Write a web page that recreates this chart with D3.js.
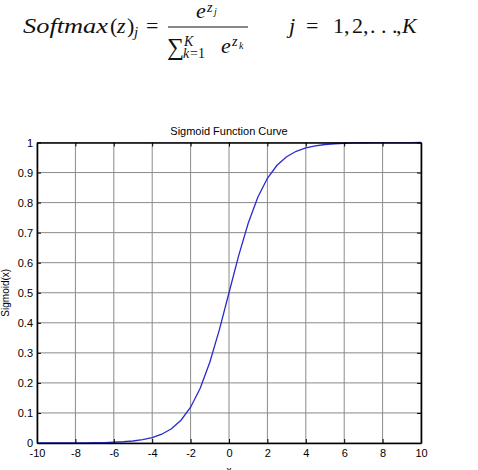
<!DOCTYPE html>
<html>
<head>
<meta charset="utf-8">
<script src="https://cdn.jsdelivr.net/npm/d3@7"></script>
<style>
  body { margin: 0; background: #fff; }
  svg { display: block; }
  .math text { font-family: "Liberation Serif", "DejaVu Serif", serif; fill: #111; }
  .axis text { font-family: "Liberation Sans", Arial, sans-serif; font-size: 11px; fill: #000; }
</style>
</head>
<body>
<div id="chart"></div>
<script>
// sigmoid curve, every 0.5 in x
var xValues = [-10, -9.5, -9, -8.5, -8, -7.5, -7, -6.5, -6, -5.5, -5, -4.5, -4, -3.5, -3, -2.5, -2, -1.5, -1, -0.5,
               0, 0.5, 1, 1.5, 2, 2.5, 3, 3.5, 4, 4.5, 5, 5.5, 6, 6.5, 7, 7.5, 8, 8.5, 9, 9.5, 10];
var yValues = [0.0000, 0.0001, 0.0001, 0.0002, 0.0003, 0.0006, 0.0009, 0.0015, 0.0025, 0.0041, 0.0067, 0.0110,
               0.0180, 0.0293, 0.0474, 0.0759, 0.1192, 0.1824, 0.2689, 0.3775, 0.5000, 0.6225, 0.7311, 0.8176,
               0.8808, 0.9241, 0.9526, 0.9707, 0.9820, 0.9890, 0.9933, 0.9959, 0.9975, 0.9985, 0.9991, 0.9994,
               0.9997, 0.9998, 0.9999, 0.9999, 1.0000];
var xTicks = [-10, -8, -6, -4, -2, 0, 2, 4, 6, 8, 10];
var yTicks = [0, 0.1, 0.2, 0.3, 0.4, 0.5, 0.6, 0.7, 0.8, 0.9, 1];

var chartTitle = "Sigmoid Function Curve";
var xLabel = "x";
var yLabel = "Sigmoid(x)";

var width = 478, height = 470;
var margin = {top: 142.5, right: 57, bottom: 27, left: 37};
var plotW = width - margin.left - margin.right;
var plotH = height - margin.top - margin.bottom;

var svg = d3.select("#chart").append("svg")
    .attr("width", width)
    .attr("height", height);

// ---- formula on top ----
var f = svg.append("g").attr("class", "math");

// small helper: one piece of the formula
function piece(txt, px, py, size, italic, len) {
    var t = f.append("text").attr("x", px).attr("y", py)
        .style("font-size", size + "px")
        .style("font-style", italic ? "italic" : "normal")
        .text(txt);
    if (len) t.attr("textLength", len).attr("lengthAdjust", "spacingAndGlyphs");
    return t;
}

piece("Softmax", 23, 33, 22, true, 85);
piece("(", 110, 33, 22, false);
piece("z", 117, 33, 22, true);
piece(")", 127, 33, 22, false);
piece("j", 134, 37, 15, true);
piece("=", 146, 33, 22, false);

// numerator
piece("e", 196, 18, 22, true);
piece("z", 207, 12, 14, true);
piece("j", 214, 15, 10, true);

f.append("line")
    .attr("x1", 168).attr("x2", 248)
    .attr("y1", 27).attr("y2", 27)
    .attr("stroke", "#111").attr("stroke-width", 1);

// denominator
piece("\u2211", 167, 55, 24, false);
piece("K", 184, 46, 14, true);
piece("k", 183, 58, 14, true);
piece("=1", 190, 58, 14, false);
piece("e", 221, 53, 22, true);
piece("z", 232, 46, 14, true);
piece("k", 239, 49, 10, true);

// right side
piece("j", 289, 33, 22, true);
piece("=", 306, 33, 22, false);
piece("1,", 333, 33, 22, false);
piece("2,", 352, 33, 22, false);
piece(". . .", 370, 33, 22, false);
piece(",", 396, 33, 22, false);
piece("K", 402, 33, 22, true);

// ---- plot ----
var x = d3.scaleLinear().domain([-10, 10]).range([0, plotW]);
var y = d3.scaleLinear().domain([0, 1]).range([plotH, 0]);

var g = svg.append("g").attr("transform", "translate(" + margin.left + "," + margin.top + ")");

// grid
g.append("g").selectAll("line.gx").data(xTicks).enter().append("line")
    .attr("x1", function(d) { return x(d); }).attr("x2", function(d) { return x(d); })
    .attr("y1", 0).attr("y2", plotH)
    .attr("stroke", "#8a8a8a").attr("stroke-width", 1);
g.append("g").selectAll("line.gy").data(yTicks).enter().append("line")
    .attr("y1", function(d) { return y(d); }).attr("y2", function(d) { return y(d); })
    .attr("x1", 0).attr("x2", plotW)
    .attr("stroke", "#8a8a8a").attr("stroke-width", 1);

// curve
var line = d3.line()
    .x(function(d, i) { return x(xValues[i]); })
    .y(function(d) { return y(d); });
g.append("path").datum(yValues)
    .attr("d", line)
    .attr("fill", "none")
    .attr("stroke", "#2a2ad0")
    .attr("stroke-width", 1.3);

// axes with inward ticks on all four sides
var plain = function(d) { return String(d); };
g.append("g").attr("class", "axis")
    .attr("transform", "translate(0," + plotH + ")")
    .call(d3.axisBottom(x).tickValues(xTicks).tickSizeInner(-4).tickSizeOuter(0).tickPadding(6).tickFormat(plain));
g.append("g").attr("class", "axis")
    .call(d3.axisTop(x).tickValues(xTicks).tickSizeInner(-4).tickSizeOuter(0).tickFormat(""));
g.append("g").attr("class", "axis")
    .call(d3.axisLeft(y).tickValues(yTicks).tickSizeInner(-4).tickSizeOuter(0).tickPadding(4).tickFormat(plain));
g.append("g").attr("class", "axis")
    .attr("transform", "translate(" + plotW + ",0)")
    .call(d3.axisRight(y).tickValues(yTicks).tickSizeInner(-4).tickSizeOuter(0).tickFormat(""));

g.selectAll(".axis path.domain").attr("stroke", "#000").attr("stroke-width", 1.6);
g.selectAll(".axis .tick line").attr("stroke", "#000");

g.append("text")
    .attr("x", plotW / 2).attr("y", -8)
    .attr("text-anchor", "middle")
    .style("font-family", "Liberation Sans, Arial, sans-serif")
    .style("font-size", "11px")
    .text(chartTitle);

g.append("text")
    .attr("x", plotW / 2).attr("y", plotH + 31)
    .attr("text-anchor", "middle")
    .style("font-family", "Liberation Sans, Arial, sans-serif")
    .style("font-size", "10px")
    .text(xLabel);

g.append("text")
    .attr("transform", "translate(" + (-28) + "," + (plotH / 2) + ") rotate(-90)")
    .attr("text-anchor", "middle")
    .style("font-family", "Liberation Sans, Arial, sans-serif")
    .style("font-size", "10px")
    .text(yLabel);
</script>
</body>
</html>
